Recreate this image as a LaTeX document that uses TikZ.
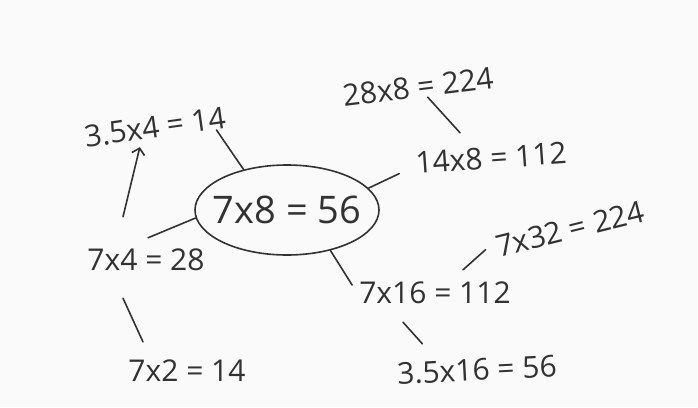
\documentclass[tikz,border=0pt]{standalone}
\usepackage{fontspec}
\setmainfont{Open Sans}
\usetikzlibrary{positioning,arrows.meta,shapes.geometric}
\definecolor{penink}{RGB}{50,50,50}
\definecolor{paper}{RGB}{250,250,250}

\begin{document}
\begin{tikzpicture}[x=1pt,y=-1pt,
    sum/.style={text=penink,font=\fontsize{30}{30}\selectfont,inner sep=2pt},
    stroke/.style={penink,line width=1.6pt,line cap=round}]
  \fill[paper] (0,0) rectangle (698,407);
  % centre
  \node[ellipse,draw=penink,line width=1.6pt,minimum width=184,minimum height=90,
        inner sep=0pt,text=penink,font=\fontsize{38}{38}\selectfont] (root) at (287,210) {\makebox[110pt]{7x8 = 56}};
  % branches
  \node[sum,rotate=8] (half) at (155,127) {3.5x4 = 14};
  \node[sum] (four) at (146,260) {7x4 = 28};
  \node[sum] (two) at (187,371) {7x2 = 14};
  \node[sum,rotate=7] (dbl) at (418,87) {28x8 = 224};
  \node[sum,rotate=4] (fourteen) at (491,158) {14x8 = 112};
  \node[sum] (sixteen) at (435,293) {7x16 = 112};
  \node[sum,rotate=14] (thirtytwo) at (570,229) {7x32 = 224};
  \node[sum,rotate=3] (halfsixteen) at (477,370) {3.5x16 = 56};
  % strokes
  \draw[stroke] ([xshift=-13pt]half.south east) -- (root.137);
  \draw[stroke,-{Straight Barb[length=6pt,width=13pt]}] ([xshift=-23pt,yshift=30pt]four.north) -- ([xshift=-17pt,yshift=-7pt]half.south);
  \draw[stroke] ([xshift=2pt,yshift=9pt]four.north) -- (root.185);
  \draw[stroke] ([xshift=-23pt,yshift=-25pt]four.south) -- ([xshift=-44pt,yshift=16pt]two.north);
  \draw[stroke] (root.15) -- ([xshift=-15pt,yshift=3pt]fourteen.south west);
  \draw[stroke] ([xshift=8pt,yshift=3pt]dbl.south) -- ([xshift=-30pt,yshift=12pt]fourteen.north);
  \draw[stroke] (root.317) -- ([xshift=-5pt,yshift=8pt]sixteen.west);
  \draw[stroke] ([xshift=28pt,yshift=10pt]sixteen.north) -- ([xshift=-12pt,yshift=11pt]thirtytwo.south west);
  \draw[stroke] ([xshift=-32pt,yshift=-16pt]sixteen.south) -- ([xshift=-54pt,yshift=13pt]halfsixteen.north);
\end{tikzpicture}
\end{document}
